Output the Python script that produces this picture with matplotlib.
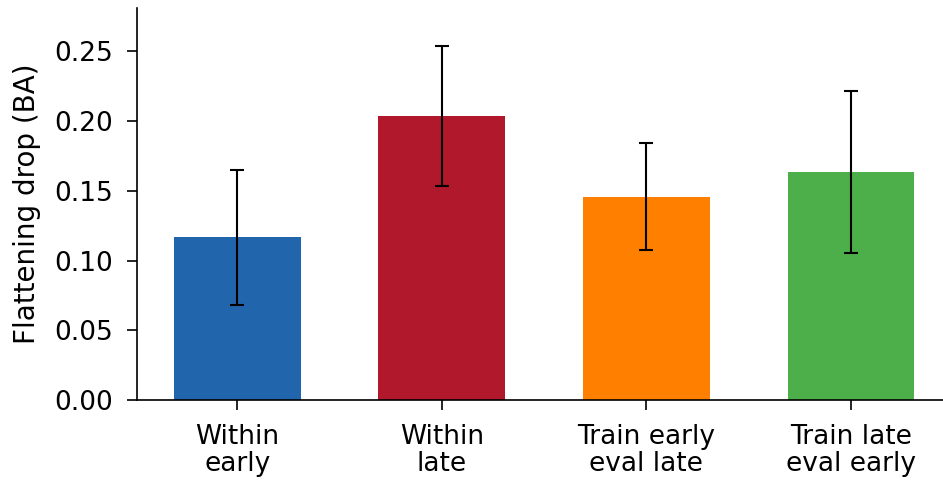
import matplotlib
matplotlib.use('Agg')
import matplotlib.pyplot as plt
import numpy as np

# ── Data ──────────────────────────────────────────────────────────────
labels = ['Within\nearly', 'Within\nlate', 'Train early\neval late', 'Train late\neval early']
means  = [0.1165, 0.2035, 0.1458, 0.1635]
errs   = [0.0485, 0.050, 0.0383, 0.058]
colors = ['#2166ac', '#b2182b', '#ff7f00', '#4daf4a']
yticks = [0.0, 0.05, 0.10, 0.15, 0.20, 0.25]

# ── Plot ──────────────────────────────────────────────────────────────
fig = plt.figure(figsize=(9.43, 4.83), dpi=100)
ax = fig.add_axes([0.1453, 0.1718, 0.8547, 0.8116])

x = np.arange(len(labels))
ax.bar(x, means, width=0.62, color=colors, zorder=2)
ax.errorbar(x, means, yerr=errs, fmt='none', ecolor='black',
            elinewidth=1.5, capsize=5, capthick=1.5, zorder=3)
ax.axhline(0, color='black', linestyle='--', linewidth=0.8, zorder=1)

ax.set_xticks(x)
ax.set_xticklabels(labels, fontsize=19, linespacing=1.05)
ax.set_ylabel('Flattening drop (BA)', fontsize=20, labelpad=10)
ax.set_yticks(yticks)
ax.set_yticklabels([f'{v:.2f}' for v in yticks], fontsize=19)
ax.tick_params(axis='both', length=7, width=1.2)
ax.tick_params(axis='x', pad=10)
ax.tick_params(axis='y', pad=10)
ax.set_xlim(-0.49, 3.45)
ax.set_ylim(0, 0.281)

for side in ['top', 'right']:
    ax.spines[side].set_visible(False)
for side in ['left', 'bottom']:
    ax.spines[side].set_linewidth(1.2)

fig.savefig('out.png', dpi=100)
